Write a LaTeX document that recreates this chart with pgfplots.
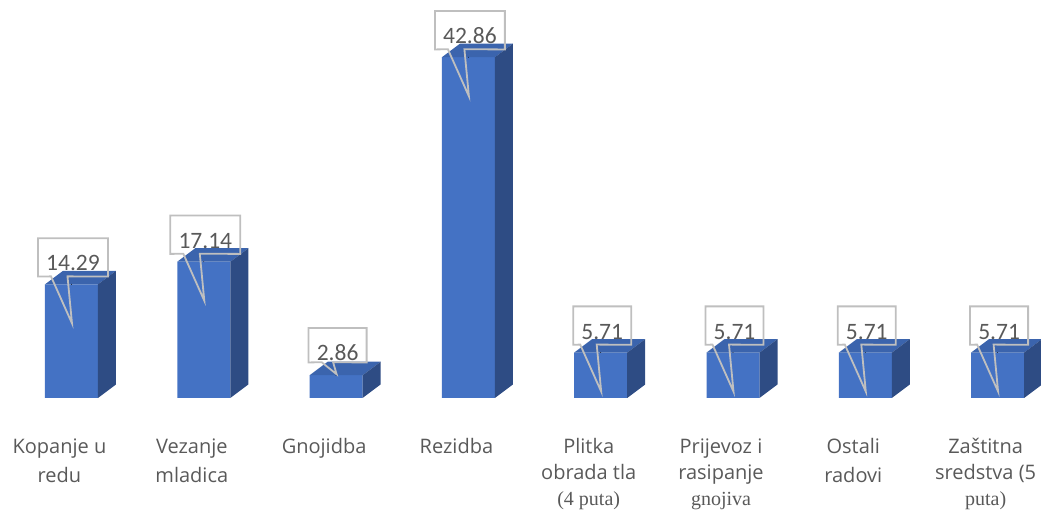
\documentclass[border=0pt]{standalone}
\usepackage{fontspec}
\setmainfont{Open Sans}
\newfontfamily\tnr{Liberation Serif}
\newfontfamily\calib{Carlito}
\usepackage{pgfplots}
\usepackage{pgfplotstable}
\pgfplotsset{compat=1.18}
\definecolor{barfront}{HTML}{4472C4}
\definecolor{bartop}{HTML}{3B64AD}
\definecolor{barside}{HTML}{2E4C84}
\definecolor{lbl}{HTML}{595959}
\definecolor{callout}{HTML}{BFBFBF}

% share of work hours per operation (%)
\pgfplotstableread{
x y
0 14.29
1 17.14
2 2.86
3 42.86
4 5.71
5 5.71
6 5.71
7 5.71
}\shares

\begin{document}
\begin{tikzpicture}
\begin{axis}[
  x=132.3bp, y=7.95bp,
  xmin=-0.5404, xmax=7.328, ymin=0, ymax=50.06,
  axis line style={draw=none}, tick style={draw=none},
  ytick=\empty, xtick={0,...,7},
  xticklabels={\strut Kopanje u\\redu, \strut Vezanje\\mladica, \strut Gnojidba, \strut Rezidba,
    \strut Plitka\\[-3bp]obrada tla\\[-3bp]{\tnr (4 puta)},
    \strut Prijevoz i\\[-3bp]rasipanje\\[-3bp]{\tnr gnojiva},
    \strut Ostali\\radovi,
    \strut Zaštitna\\[-3bp]sredstva (5\\[-3bp]{\tnr puta)}},
  xticklabel style={align=center, anchor=north, inner sep=0pt, text=lbl,
    font=\fontsize{20bp}{29bp}\selectfont, xshift=-12bp, yshift=-34.7bp},
  clip=false,
]
% front faces
\addplot[ybar, bar width=53bp, fill=barfront, draw=none] table[x=x,y=y]{\shares};
% top and side faces, data callouts
\addplot[scatter, only marks, mark=*, mark size=0.1pt,
  mark options={draw=none,fill=none},
  visualization depends on={rawy \as \rawy},
  scatter/@pre marker code/.code={%
    \pgfmathsetmacro\hgt{\rawy*7.95}%
    \pgfmathsetmacro\sbot{13.5-\hgt}%
    \pgfpathmoveto{\pgfpoint{-26.5bp}{0bp}}%
    \pgfpathlineto{\pgfpoint{26.5bp}{0bp}}%
    \pgfpathlineto{\pgfpoint{44.5bp}{13.5bp}}%
    \pgfpathlineto{\pgfpoint{-8.5bp}{13.5bp}}%
    \pgfpathclose
    \pgfsetfillcolor{bartop}\pgfusepath{fill}%
    \pgfpathmoveto{\pgfpoint{26.5bp}{0bp}}%
    \pgfpathlineto{\pgfpoint{44.5bp}{13.5bp}}%
    \pgfpathlineto{\pgfpoint{44.5bp}{\sbot bp}}%
    \pgfpathlineto{\pgfpoint{26.5bp}{-\hgt bp}}%
    \pgfpathclose
    \pgfsetfillcolor{barside}\pgfusepath{fill}%
    \ifdim\hgt pt>40pt
      \def\tipy{-39}\def\ybase{13.5}\def\tdep{5.5}\def\pa{-20.5}\def\pb{-4}%
    \else
      \def\tipy{1}\def\ybase{14.5}\def\tdep{1.5}\def\pa{-14.4}\def\pb{-3}%
    \fi
    \pgfmathsetmacro\ybb{\ybase-\tdep}%
    \node[anchor=base, inner xsep=8bp, inner ysep=0pt, text height=32.5bp,
      text depth=\tdep bp, text=lbl, font=\calib\fontsize{23.5bp}{28bp}\selectfont]
      (cl) at (1.5bp,\ybase bp) {\pgfmathprintnumber[fixed,precision=2,fixed zerofill,assume math mode=true]{\rawy}};
    \draw[callout, line width=1.8bp, line join=miter] (cl.south west) -- (\pa bp,\ybb bp)
      -- (0.5bp,\tipy bp) -- (\pb bp,\ybb bp) -- (cl.south east) -- (cl.north east)
      -- (cl.north west) -- cycle;
  },
  scatter/@post marker code/.code={},
] table[x=x,y=y]{\shares};
\coordinate (ll) at (axis cs:-0.5404,-15.22);
\coordinate (ur) at (axis cs:7.328,50.06);
\end{axis}
\pgfresetboundingbox
\useasboundingbox (ll) rectangle (ur);
\end{tikzpicture}
\end{document}
